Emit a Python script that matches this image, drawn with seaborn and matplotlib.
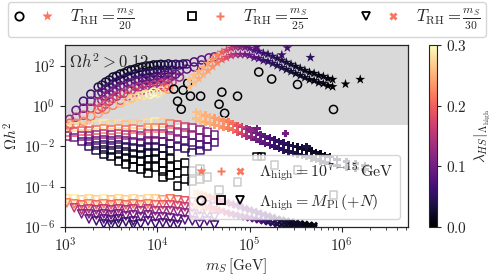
import numpy as np
import pandas as pd
import matplotlib
matplotlib.use("Agg")
import matplotlib.pyplot as plt
import seaborn as sns
from matplotlib.lines import Line2D
from matplotlib.legend_handler import HandlerTuple
from matplotlib.colors import Normalize
from matplotlib.cm import ScalarMappable
from matplotlib.ticker import FixedLocator, FuncFormatter, NullLocator, LogLocator

# ---------------- data (log10 m_S/GeV, log10 Omega h^2, lambda_HS) ----------------
# Lambda_high = M_Pl, T_RH = m_S/20  (open circles)
circles_pl = [
    (3.05, -0.65, .12), (3.05, -0.85, .20), (3.05, -1.0, .24),
    (3.12, -0.2, .08), (3.12, -0.55, .15), (3.12, -0.85, .22),
    (3.2, 0.25, .06), (3.2, -0.1, .10), (3.2, -0.45, .17), (3.2, -0.75, .23),
    (3.28, 0.6, .05), (3.28, 0.25, .09), (3.28, -0.1, .14), (3.28, -0.5, .21),
    (3.36, 0.95, .04), (3.36, 0.6, .08), (3.36, 0.2, .13), (3.36, -0.15, .19), (3.36, -0.35, .24),
    (3.44, 1.2, .03), (3.44, 0.85, .06), (3.44, 0.5, .11), (3.44, 0.1, .17), (3.44, -0.15, .23),
    (3.52, 1.45, .03), (3.52, 1.1, .05), (3.52, 0.75, .09), (3.52, 0.4, .14), (3.52, 0.05, .22),
    (3.6, 1.6, .02), (3.6, 1.3, .05), (3.6, 1.0, .08), (3.6, 0.65, .12), (3.6, 0.3, .20), (3.6, 0.15, .26),
    (3.68, 1.75, .02), (3.68, 1.45, .04), (3.68, 1.15, .07), (3.68, 0.85, .12), (3.68, 0.5, .19), (3.68, 0.3, .27),
    (3.76, 1.85, .02), (3.76, 1.6, .04), (3.76, 1.3, .07), (3.76, 1.0, .11), (3.76, 0.7, .18), (3.76, 0.45, .28),
    (3.84, 1.95, .02), (3.84, 1.7, .04), (3.84, 1.4, .06), (3.84, 1.1, .10), (3.84, 0.8, .17), (3.84, 0.55, .29),
    (3.92, 2.0, .02), (3.92, 1.75, .03), (3.92, 1.45, .06), (3.92, 1.15, .10), (3.92, 0.9, .16), (3.92, 0.6, .30),
    (4.0, 2.05, .02), (4.0, 1.8, .04), (4.0, 1.5, .07), (4.0, 1.2, .12), (4.0, 0.95, .18), (4.0, 0.65, .29),
    (4.08, 2.05, .03), (4.08, 1.8, .05), (4.08, 1.55, .08), (4.08, 1.25, .14), (4.08, 0.95, .20),
    (4.16, 2.05, .04), (4.16, 1.8, .06), (4.16, 1.5, .10), (4.16, 1.2, .16),
    (4.24, 2.05, .05), (4.24, 1.75, .08), (4.24, 1.45, .12),
    (4.32, 2.1, .06), (4.32, 1.85, .09),
    (4.4, 2.2, .07), (4.4, 1.95, .08),
    (4.48, 2.3, .08), (4.48, 2.05, .09),
    (4.56, 2.4, .09), (4.62, 2.45, .10),
    (3.4, 1.05, .04), (3.48, 1.3, .03), (3.56, 1.5, .03), (3.64, 1.65, .02),
    (3.72, 1.8, .02), (3.8, 1.92, .02), (3.88, 2.0, .02), (3.96, 2.05, .02),
    (4.04, 2.08, .03), (4.12, 2.1, .04), (4.2, 2.08, .05), (4.28, 2.1, .05),
    (3.4, 0.7, .08), (3.48, 0.95, .07), (3.56, 1.2, .06), (3.64, 1.35, .06),
    (3.72, 1.5, .05), (3.8, 1.6, .05), (3.88, 1.6, .05), (3.96, 1.65, .05),
    (4.04, 1.65, .06), (4.12, 1.65, .07), (4.2, 1.6, .09),
    (3.4, 0.3, .13), (3.48, 0.6, .11), (3.56, 0.85, .10), (3.64, 1.0, .10),
    (3.72, 1.15, .09), (3.8, 1.25, .09), (3.88, 1.3, .09), (3.96, 1.35, .09),
    (4.04, 1.4, .10), (4.12, 1.35, .12),
    (3.4, -0.05, .19), (3.48, 0.25, .17), (3.56, 0.5, .16), (3.64, 0.65, .16),
    (3.72, 0.8, .15), (3.8, 0.95, .14), (3.88, 1.0, .14), (3.96, 1.05, .15),
    (4.04, 1.1, .16), (4.12, 1.05, .18),
    (3.72, 0.4, .26), (3.8, 0.5, .27), (3.88, 0.6, .28), (3.96, 0.7, .30),
    (4.04, 0.75, .28), (4.12, 0.85, .24),
    (4.18, 0.85, 0.0), (4.22, 0.25, 0.0), (4.26, -0.15, 0.0), (4.28, 0.8, 0.0),
    (4.33, 1.15, 0.0), (4.36, 0.5, 0.0), (4.47, 0.5, 0.0), (4.67, 0.1, 0.0),
    (4.70, 0.7, 0.0), (4.73, -0.35, 0.0), (4.87, 0.5, 0.0), (5.10, 1.7, 0.0),
    (5.24, 1.35, 0.0), (5.52, 1.08, 0.0), (5.91, -0.16, 0.0),
]

# Lambda_high = 10^{7-15} GeV, T_RH = m_S/20  (stars): (log mS, upper, lower, lambda)
stars_band = [
    (4.35, 1.33, 0.97, .26), (4.40, 1.53, 1.17, .26), (4.45, 1.73, 1.37, .25),
    (4.50, 1.93, 1.57, .25), (4.55, 2.13, 1.77, .24), (4.60, 2.33, 1.97, .23),
    (4.65, 2.53, 2.17, .22), (4.70, 2.68, 2.32, .20), (4.75, 2.78, 2.42, .18),
    (4.80, 2.88, 2.52, .16), (4.85, 2.93, 2.57, .14), (4.90, 2.93, 2.57, .12),
    (4.95, 2.93, 2.57, .10), (5.00, 2.88, 2.52, .09), (5.05, 2.78, 2.42, .08),
    (5.10, 2.73, 2.37, .07), (5.15, 2.63, 2.27, .06), (5.20, 2.58, 2.22, .05),
    (5.25, 2.48, 2.12, .05), (5.30, 2.38, 2.02, .04), (5.35, 2.28, 1.92, .04),
    (5.40, 2.18, 1.82, .03), (5.45, 2.08, 1.72, .03), (5.50, 1.98, 1.62, .02),
    (5.55, 1.88, 1.52, .02), (5.60, 1.78, 1.42, .02), (5.65, 1.68, 1.32, .01),
    (5.70, 1.63, 1.27, .01), (5.75, 1.53, 1.17, .01), (5.80, 1.48, 1.12, .01),
    (5.85, 1.38, 1.02, .0), (5.90, 1.33, 0.97, .0),
]
stars_extra = [(5.08, 2.95, .08), (5.41, 2.9, .07), (5.66, 2.42, .05),
               (5.35, 2.55, .06), (6.04, 1.1, 0.0), (6.2, 1.33, 0.0)]

# Lambda_high = M_Pl, T_RH = m_S/25  (open squares)
squares_pl = [
    (3.02, -1.1, .27), (3.02, -1.3, .20), (3.02, -1.5, .12),
    (3.1, -1.05, .28), (3.1, -1.3, .18), (3.1, -1.55, .10),
    (3.18, -1.0, .27), (3.18, -1.25, .20), (3.18, -1.5, .12), (3.18, -1.75, .08),
    (3.26, -1.0, .26), (3.26, -1.25, .18), (3.26, -1.5, .12), (3.26, -1.75, .08), (3.26, -2.0, .06),
    (3.34, -0.95, .28), (3.34, -1.2, .20), (3.34, -1.45, .13), (3.34, -1.7, .09), (3.34, -1.95, .06), (3.34, -2.2, .04),
    (3.42, -0.9, .29), (3.42, -1.15, .22), (3.42, -1.4, .14), (3.42, -1.65, .09), (3.42, -1.9, .05), (3.42, -2.15, .03), (3.42, -2.4, .02),
    (3.5, -0.95, .27), (3.5, -1.2, .20), (3.5, -1.45, .12), (3.5, -1.7, .08), (3.5, -1.95, .05), (3.5, -2.2, .03), (3.5, -2.5, .01),
    (3.58, -0.9, .28), (3.58, -1.15, .22), (3.58, -1.4, .15), (3.58, -1.65, .09), (3.58, -1.9, .05), (3.58, -2.15, .03), (3.58, -2.4, .02), (3.58, -2.7, .0),
    (3.66, -0.95, .26), (3.66, -1.2, .20), (3.66, -1.45, .13), (3.66, -1.7, .08), (3.66, -2.0, .04), (3.66, -2.25, .02), (3.66, -2.55, .01), (3.66, -2.85, .0),
    (3.74, -0.9, .27), (3.74, -1.15, .21), (3.74, -1.45, .14), (3.74, -1.75, .08), (3.74, -2.05, .04), (3.74, -2.35, .02), (3.74, -2.65, .0), (3.74, -3.0, .0),
    (3.82, -0.95, .26), (3.82, -1.2, .19), (3.82, -1.5, .12), (3.82, -1.8, .07), (3.82, -2.1, .03), (3.82, -2.4, .01), (3.82, -2.7, .0), (3.82, -3.1, .0),
    (3.9, -0.85, .28), (3.9, -1.1, .23), (3.9, -1.4, .15), (3.9, -1.7, .09), (3.9, -2.0, .05), (3.9, -2.3, .02), (3.9, -2.65, .01), (3.9, -2.95, .0), (3.9, -3.3, .0),
    (3.98, -0.8, .29), (3.98, -1.1, .22), (3.98, -1.4, .14), (3.98, -1.7, .08), (3.98, -2.0, .04), (3.98, -2.3, .02), (3.98, -2.6, .0), (3.98, -3.0, .0),
    (4.06, -0.85, .27), (4.06, -1.1, .20), (4.06, -1.4, .13), (4.06, -1.75, .08), (4.06, -2.1, .04), (4.06, -2.45, .01), (4.06, -2.8, .0), (4.06, -3.2, .0), (4.06, -3.5, .0),
    (4.14, -0.9, .22), (4.14, -1.2, .16), (4.14, -1.5, .11), (4.14, -1.85, .07), (4.14, -2.2, .03), (4.14, -2.6, .0), (4.14, -3.0, .0), (4.14, -3.4, .0),
    (4.22, -0.95, .19), (4.22, -1.3, .14), (4.22, -1.6, .10), (4.22, -2.0, .06), (4.22, -2.9, .0), (4.22, -3.3, .0), (4.22, -3.95, .0),
    (4.3, -1.05, .17), (4.3, -1.35, .12), (4.3, -1.7, .09), (4.3, -2.1, .05), (4.3, -2.8, .0), (4.3, -3.6, .0),
    (4.38, -1.1, .15), (4.38, -1.45, .11), (4.38, -1.8, .08), (4.38, -2.3, .04), (4.38, -3.2, .0), (4.38, -3.7, .0),
    (4.46, -1.2, .13), (4.46, -1.55, .10), (4.46, -1.9, .07), (4.46, -2.2, .06), (4.46, -3.1, .0), (4.46, -3.6, .0),
    (4.54, -1.3, .11), (4.54, -1.65, .09), (4.54, -2.0, .07), (4.54, -3.5, .0),
    (4.62, -1.45, .10), (4.62, -1.8, .08),
    (5.08, -2.5, .0), (5.13, -2.5, .0), (5.27, -2.93, .0), (5.52, -3.18, .0),
    (4.87, -3.77, .0), (4.67, -4.17, .0), (5.91, -4.42, .0),
]

# Lambda_high = 10^{7-15} GeV, T_RH = m_S/25  (plus): (log mS, upper, lower, lambda)
plus_band = [
    (4.42, -0.28, -0.62, .26), (4.47, -0.39, -0.73, .26), (4.52, -0.45, -0.79, .25),
    (4.57, -0.53, -0.87, .25), (4.62, -0.59, -0.93, .24), (4.67, -0.65, -0.99, .24),
    (4.72, -0.71, -1.05, .23), (4.77, -0.77, -1.11, .22), (4.82, -0.85, -1.19, .21),
    (4.87, -0.95, -1.29, .19), (4.92, -1.04, -1.38, .17), (4.97, -1.13, -1.47, .14),
    (5.02, -1.22, -1.56, .12), (5.07, -1.32, -1.66, .10), (5.12, -1.41, -1.75, .09),
    (5.17, -1.50, -1.84, .08), (5.22, -1.59, -1.93, .07), (5.27, -1.67, -2.01, .06),
    (5.32, -1.76, -2.10, .05), (5.37, -1.84, -2.18, .05), (5.42, -1.92, -2.26, .04),
    (5.47, -1.97, -2.31, .04), (5.52, -2.03, -2.37, .03), (5.57, -2.09, -2.43, .03),
    (5.62, -2.15, -2.49, .02), (5.67, -2.22, -2.56, .02), (5.72, -2.30, -2.64, .02),
    (5.77, -2.37, -2.71, .01), (5.82, -2.45, -2.79, .01), (5.87, -2.52, -2.86, .01),
    (5.95, -2.65, -2.95, .01), (6.05, -2.75, -3.05, .01), (6.15, -2.85, -3.10, .0),
    (6.25, -2.95, -3.15, .0),
]
plus_extra = [(5.08, -1.1, .10), (5.39, -1.35, .10), (5.62, -2.0, .04), (5.0, -1.15, .12)]

# Lambda_high = M_Pl, T_RH = m_S/30  (open triangles)
triangles_pl = [
    (3.02, -4.6, .28), (3.02, -4.8, .22),
    (3.1, -4.6, .29), (3.1, -4.85, .22), (3.1, -5.05, .16),
    (3.18, -4.65, .27), (3.18, -4.9, .20), (3.18, -5.15, .15), (3.18, -5.35, .11),
    (3.26, -4.6, .28), (3.26, -4.85, .22), (3.26, -5.1, .16), (3.26, -5.35, .12), (3.26, -5.6, .09),
    (3.34, -4.65, .27), (3.34, -4.9, .20), (3.34, -5.15, .14), (3.34, -5.4, .10), (3.34, -5.7, .07),
    (3.42, -4.6, .29), (3.42, -4.85, .22), (3.42, -5.1, .15), (3.42, -5.35, .11), (3.42, -5.6, .08), (3.42, -5.85, .06),
    (3.5, -4.65, .26), (3.5, -4.9, .20), (3.5, -5.15, .14), (3.5, -5.4, .10), (3.5, -5.65, .07), (3.5, -5.9, .05),
    (3.58, -4.6, .28), (3.58, -4.85, .21), (3.58, -5.1, .15), (3.58, -5.35, .10), (3.58, -5.6, .07), (3.58, -5.85, .05),
    (3.66, -4.65, .27), (3.66, -4.9, .20), (3.66, -5.15, .14), (3.66, -5.45, .10), (3.66, -5.75, .06),
    (3.74, -4.6, .28), (3.74, -4.85, .21), (3.74, -5.1, .15), (3.74, -5.4, .10), (3.74, -5.7, .07), (3.74, -5.9, .05),
    (3.82, -4.65, .27), (3.82, -4.9, .20), (3.82, -5.2, .13), (3.82, -5.5, .09), (3.82, -5.85, .06),
    (3.9, -4.6, .28), (3.9, -4.85, .22), (3.9, -5.1, .15), (3.9, -5.4, .10), (3.9, -5.7, .07),
    (3.98, -4.6, .27), (3.98, -4.9, .20), (3.98, -5.2, .14), (3.98, -5.5, .10), (3.98, -5.85, .06),
    (4.06, -4.65, .24), (4.06, -4.9, .19), (4.06, -5.2, .14), (4.06, -5.5, .10), (4.06, -5.8, .07),
    (4.14, -4.6, .22), (4.14, -4.9, .18), (4.14, -5.2, .13), (4.14, -5.55, .09), (4.14, -5.85, .06),
    (4.22, -4.65, .20), (4.22, -4.95, .17), (4.22, -5.25, .13), (4.22, -5.6, .09), (4.22, -5.9, .06),
    (4.3, -4.7, .19), (4.3, -5.0, .16), (4.3, -5.3, .12), (4.3, -5.65, .08),
    (4.38, -4.75, .18), (4.38, -5.05, .15), (4.38, -5.35, .12), (4.38, -5.7, .08),
    (4.46, -4.8, .16), (4.46, -5.15, .13), (4.46, -5.5, .10), (4.46, -5.85, .07),
    (4.54, -4.9, .14), (4.54, -5.3, .11), (4.54, -5.7, .08),
    (4.62, -5.0, .12), (4.62, -5.5, .09), (4.62, -5.9, .06),
]

# Lambda_high = 10^{7-15} GeV, T_RH = m_S/30  (X): (log mS, upper, lower, lambda)
x_band = [
    (4.42, -4.3, -4.9, .26), (4.46, -4.35, -4.95, .25), (4.50, -4.4, -5.0, .24),
    (4.55, -4.48, -5.05, .22), (4.60, -4.55, -5.1, .20), (4.65, -4.62, -5.15, .18),
    (4.70, -4.7, -5.2, .17), (4.75, -4.78, -5.28, .15), (4.80, -4.85, -5.35, .14),
    (4.85, -4.92, -5.4, .12), (4.90, -5.0, -5.45, .11), (4.95, -5.08, -5.5, .10),
    (5.00, -5.15, -5.55, .09), (5.05, -5.22, -5.6, .08), (5.10, -5.3, -5.65, .07),
    (5.15, -5.38, -5.7, .06), (5.20, -5.45, -5.75, .05), (5.25, -5.52, -5.8, .05),
    (5.30, -5.6, -5.85, .04), (5.35, -5.65, -5.88, .03), (5.40, -5.7, -5.9, .03),
    (5.45, -5.75, -5.93, .02), (5.50, -5.8, -5.95, .02), (5.55, -5.83, -5.97, .02),
    (5.60, -5.86, -5.98, .01), (5.65, -5.9, -5.99, .01), (5.70, -5.92, -6.0, .01),
]

LAM_MAX = 0.3
SALMON = "#f8765c"


def points_df(rows):
    lx, ly, lam = zip(*rows)
    return pd.DataFrame({"mS": np.power(10.0, lx), "oh2": np.power(10.0, ly), "lam": lam})


def band_df(rows, extra=()):
    lx, hi, lo, lam = zip(*rows)
    pts = list(zip(lx, hi, lam)) + list(zip(lx, lo, lam)) + list(extra)
    return points_df(pts)


# ---------------- figure ----------------
sns.set_style("ticks")
plt.rcParams["mathtext.fontset"] = "cm"
plt.rcParams["font.family"] = ["DejaVu Serif"]

fig = plt.figure(figsize=(4.98, 2.77), dpi=100)
ax = fig.add_axes([0.1305, 0.1805, 0.6885, 0.657])
cax = fig.add_axes([0.8614, 0.1805, 0.0161, 0.657])

ax.set_xscale("log")
ax.set_yscale("log")
ax.set_xlim(1e3, 5.2e6)
ax.set_ylim(1e-6, 1.1e3)
ax.axhspan(0.12, 1e4, color="#d9d9d9", zorder=0, lw=0)

norm = (0, LAM_MAX)


def open_scatter(df, marker, size):
    sns.scatterplot(data=df, x="mS", y="oh2", hue="lam", palette="magma",
                    hue_norm=norm, marker=marker, s=size, legend=False, ax=ax)
    coll = ax.collections[-1]
    fc = coll.get_facecolors()
    coll.set_edgecolors(fc)
    coll.set_facecolors("none")
    coll.set_linewidths(1.1)


def filled_scatter(df, marker, size):
    sns.scatterplot(data=df, x="mS", y="oh2", hue="lam", palette="magma",
                    hue_norm=norm, marker=marker, s=size, linewidth=0,
                    legend=False, ax=ax)


open_scatter(points_df(circles_pl), "o", 34)
filled_scatter(band_df(stars_band, stars_extra), "*", 55)
open_scatter(points_df(squares_pl), "s", 32)
filled_scatter(band_df(plus_band, plus_extra), "P", 30)
open_scatter(points_df(triangles_pl), "v", 34)
filled_scatter(band_df(x_band), "X", 30)

ax.text(0.012, 0.96, r"$\Omega h^2 > 0.12$", transform=ax.transAxes,
        fontsize=12, va="top", ha="left")

ax.xaxis.set_major_locator(FixedLocator([1e3, 1e4, 1e5, 1e6]))
ax.xaxis.set_minor_locator(LogLocator(base=10, subs=np.arange(2, 10), numticks=20))
ax.yaxis.set_major_locator(FixedLocator([1e-6, 1e-4, 1e-2, 1e0, 1e2]))
ax.yaxis.set_minor_locator(NullLocator())
expfmt = FuncFormatter(lambda v, p: r"$10^{%d}$" % int(round(np.log10(v))))
ax.xaxis.set_major_formatter(expfmt)
ax.yaxis.set_major_formatter(expfmt)
ax.tick_params(axis="both", which="major", labelsize=11, length=3.5, width=0.8)
ax.tick_params(axis="x", which="minor", length=2, width=0.6)
ax.set_xlabel(r"$m_S\,[\mathrm{GeV}]$", fontsize=11, labelpad=1)
ax.set_ylabel(r"$\Omega h^2$", fontsize=11, labelpad=2)
for sp in ax.spines.values():
    sp.set_linewidth(0.9)

sm = ScalarMappable(norm=Normalize(0, LAM_MAX), cmap="magma")
cb = fig.colorbar(sm, cax=cax)
cb.set_ticks([0.0, 0.1, 0.2, 0.3])
cb.ax.yaxis.set_major_formatter(FuncFormatter(lambda v, p: r"$%.1f$" % v))
cb.ax.tick_params(labelsize=11, length=3)
cb.set_label(r"$\lambda_{HS}|_{\Lambda_{\rm high}}$", fontsize=11, labelpad=4)
cb.outline.set_linewidth(0.8)


def mk(marker, open_=False, ms=6):
    if open_:
        return Line2D([], [], ls="", marker=marker, mfc="none", mec="k", mew=1.3, ms=ms)
    return Line2D([], [], ls="", marker=marker, color=SALMON, mec="none", ms=ms)


top_handles = [(mk("o", True), mk("*", ms=8)),
               (mk("s", True), mk("P")),
               (mk("v", True), mk("X"))]
top_labels = [r"$T_{\rm RH} = \frac{m_S}{20}$", r"$T_{\rm RH} = \frac{m_S}{25}$",
              r"$T_{\rm RH} = \frac{m_S}{30}$"]
fig.legend(top_handles, top_labels, ncol=3, mode="expand", loc="lower left",
           bbox_to_anchor=(0.016, 0.865, 0.96, 0.12), fontsize=12,
           handler_map={tuple: HandlerTuple(ndivide=None, pad=0.9)},
           handlelength=2.4, handletextpad=1.0, borderaxespad=0, frameon=True,
           edgecolor="0.8", fancybox=True, borderpad=0.3)

low_handles = [(mk("*", ms=8), mk("P"), mk("X")),
               (mk("o", True), mk("s", True), mk("v", True))]
low_labels = [r"$\Lambda_{\rm high} = 10^{7-15}\,\mathrm{GeV}$",
              r"$\Lambda_{\rm high} = M_{\rm Pl}\,(+N)$"]
ax.legend(low_handles, low_labels, loc="lower right", fontsize=11.5,
          handler_map={tuple: HandlerTuple(ndivide=None, pad=0.4)},
          handlelength=3.2, handletextpad=0.8, framealpha=0.8, edgecolor="0.8",
          borderaxespad=0.5)

fig.savefig("out.png", dpi=100)
